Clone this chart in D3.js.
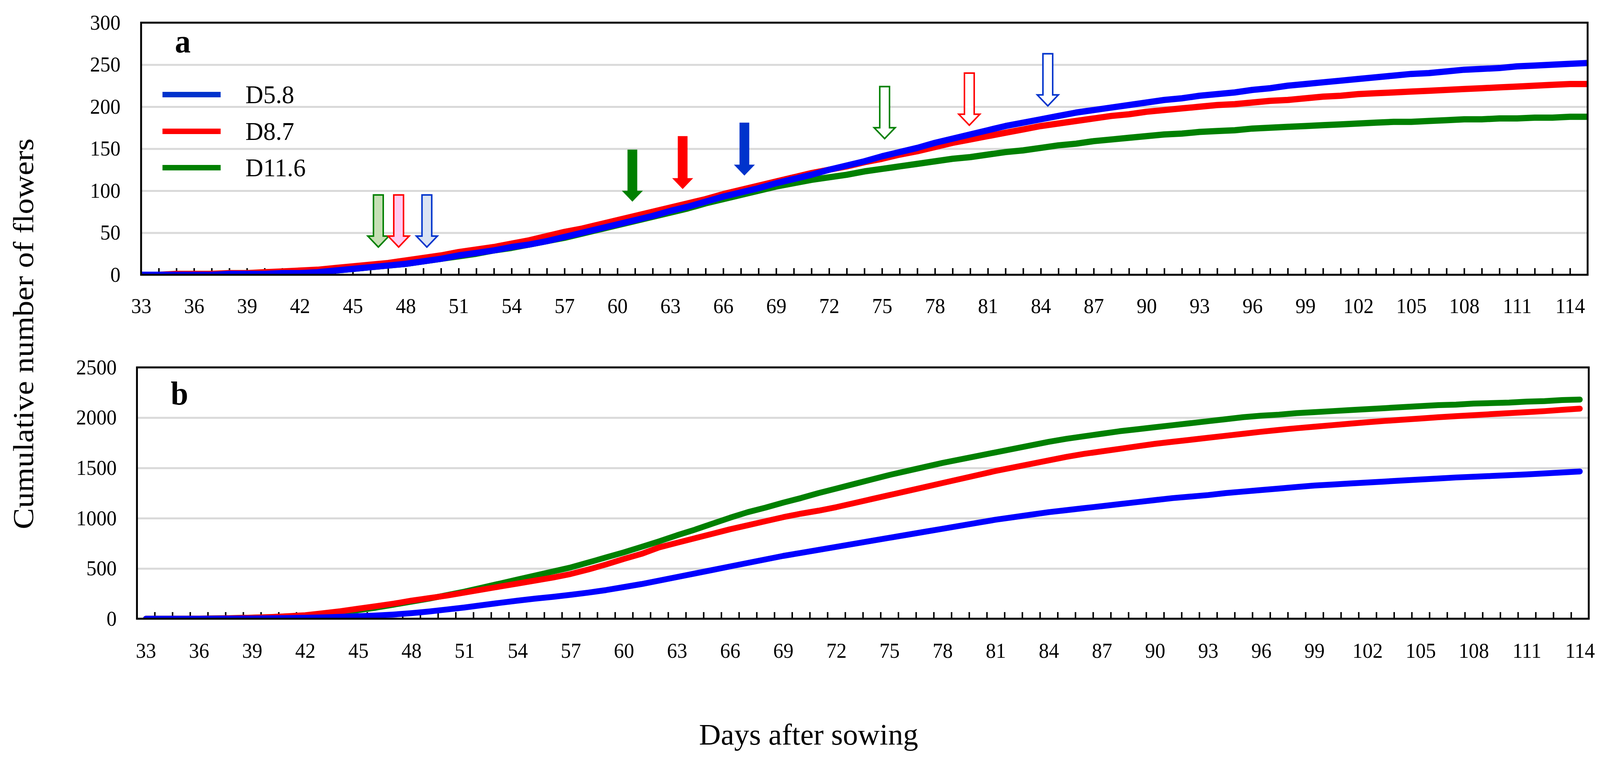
<!DOCTYPE html>
<html>
<head>
<meta charset="utf-8">
<script src="https://cdn.jsdelivr.net/npm/d3@7"></script>
<style>
  html, body { margin: 0; padding: 0; background: #fff; overflow: hidden; }
  #chart svg { display: block; width: 100vw; height: 100vh; }
  text { font-family: "Palatino Linotype", "Book Antiqua", Palatino, "Liberation Serif", serif; fill: #000; }
</style>
</head>
<body>
<div id="chart"></div>
<script>
// days after sowing
const daysA = d3.range(33, 116);
const daysB = d3.range(33, 115);
const dayLabels = d3.range(33, 115, 3);

const seriesNames = ["D5.8", "D8.7", "D11.6"];
const seriesColors = ["#0000ff", "#ff0000", "#008000"];

// panel a
const aD58 = [0,0,0,0,0,1,1,1,2,2, 3,5,7,9,11,13,16,19,23,26, 29,33,36,40,45,50,55,60,65,70,
  76,81,87,93,98,103,109,114,119,125, 130,135,141,146,151,157,162,167,172,177,
  181,185,189,193,196,199,202,205,208,210, 213,215,217,220,222,225,227,229,231,233,
  235,237,239,240,242,244,245,246,248,249, 250,251,252];
const aD87 = [0,0,1,1,1,2,2,3,4,5, 6,8,10,12,14,17,20,23,27,30, 33,37,41,46,51,55,60,65,70,75,
  80,85,90,96,101,106,111,116,121,125, 129,134,138,143,147,152,157,161,165,169,
  173,177,180,183,186,189,191,194,196,198, 200,202,203,205,207,208,210,212,213,215,
  216,217,218,219,220,221,222,223,224,225, 226,227,227];
const aD116 = [0,0,0,0,0,1,1,1,2,2, 3,5,7,9,11,13,16,19,22,25, 29,32,36,40,44,49,54,59,64,69,
  74,79,85,90,95,100,105,109,113,116, 119,123,126,129,132,135,138,140,143,146,
  148,151,154,156,159,161,163,165,167,168, 170,171,172,174,175,176,177,178,179,180,
  181,182,182,183,184,185,185,186,186,187, 187,188,188];

// panel b
const bD58 = [0,0,0,0,1,2,3,5,7,10, 14,19,25,32,42,55,72,92,112,135, 158,180,200,218,238,260,285,315,345,380,
  415,450,485,520,555,590,625,655,685,715, 745,775,805,835,865,895,925,955,985,1010,
  1035,1060,1080,1100,1120,1140,1160,1180,1200,1215, 1230,1250,1265,1280,1295,1310,1325,1335,1345,1355,
  1365,1375,1385,1395,1405,1412,1420,1428,1436,1445, 1455,1465];
const bD87 = [0,0,1,2,4,7,11,17,25,35, 55,75,100,125,150,180,205,230,260,290, 320,350,380,410,445,490,540,595,645,710,
  755,800,845,890,930,970,1010,1045,1075,1110, 1150,1190,1230,1270,1310,1350,1390,1430,1470,1505,
  1540,1575,1610,1640,1665,1690,1715,1740,1760,1780, 1800,1820,1840,1860,1878,1895,1910,1925,1940,1955,
  1968,1980,1992,2004,2015,2025,2035,2045,2055,2065, 2078,2090];
const bD116 = [0,0,1,2,4,7,11,16,23,32, 45,62,85,110,140,170,200,235,270,310, 350,390,430,470,510,560,610,660,715,770,
  830,885,945,1005,1060,1105,1155,1200,1250,1295, 1340,1385,1430,1470,1510,1550,1585,1620,1655,1690,
  1725,1760,1790,1815,1840,1865,1885,1905,1925,1945, 1965,1985,2005,2020,2030,2045,2055,2065,2075,2085,
  2095,2105,2115,2125,2130,2140,2145,2150,2160,2165, 2175,2180];

// arrows in panel a: day, top value, tip value
const arrowDay  = [46.45, 47.6, 49.2, 60.85, 63.7, 67.2, 75.15, 79.95, 84.4];
const arrowTop  = [95, 95, 95, 149, 165, 181, 224, 240, 263];
const arrowTip  = [33, 33, 33, 87, 102, 118, 162, 178, 201];
const arrowKind = ["hollow", "hollow", "hollow", "solid", "solid", "solid", "hollow", "hollow", "hollow"];
const arrowStroke = ["#008000", "#ff0000", "#0033cc", "#008000", "#ff0000", "#0033cc", "#008000", "#ff0000", "#0033cc"];
const arrowFill = ["#c5e0b4", "#ffccf2", "#dae3f3", "#008000", "#ff0000", "#0033cc", "#ffffff", "#ffffff", "#ffffff"];

const W = 4264, H = 1947;
const svg = d3.select("#chart").append("svg")
  .attr("viewBox", "0 0 " + W + " " + H)
  .attr("preserveAspectRatio", "none")
  .style("background", "#fff");

function drawPanel(p) {
  const x = d3.scaleLinear().domain(p.xDomain).range([p.left, p.right]);
  const y = d3.scaleLinear().domain([0, p.yMax]).range([p.bottom, p.top]);
  const g = svg.append("g");

  // gridlines
  g.append("g")
    .attr("transform", "translate(" + p.left + ",0)")
    .call(d3.axisLeft(y).tickValues(p.grid).tickSize(-(p.right - p.left)).tickFormat(""))
    .call(s => s.select(".domain").remove())
    .call(s => s.selectAll("line").attr("stroke", "#d9d9d9").attr("stroke-width", 5));

  // y labels
  g.append("g")
    .attr("transform", "translate(" + p.left + ",0)")
    .call(d3.axisLeft(y).tickValues(p.yTicks).tickSize(0).tickPadding(p.yPad).tickFormat(d3.format("d")))
    .call(s => s.select(".domain").remove())
    .call(s => s.selectAll("text").attr("font-size", 54));

  // inner ticks on bottom axis
  g.append("g")
    .attr("transform", "translate(0," + p.bottom + ")")
    .call(d3.axisBottom(x).tickValues(p.minorTicks).tickSize(-17).tickFormat(""))
    .call(s => s.select(".domain").remove())
    .call(s => s.selectAll("line").attr("stroke", "#000").attr("stroke-width", 4));

  // x labels
  g.append("g")
    .attr("transform", "translate(0," + p.bottom + ")")
    .call(d3.axisBottom(x).tickValues(dayLabels).tickSize(0).tickPadding(p.xPad).tickFormat(d3.format("d")))
    .call(s => s.select(".domain").remove())
    .call(s => s.selectAll("text").attr("font-size", 54));

  // lines
  const clipId = "clip-" + p.name;
  svg.append("clipPath").attr("id", clipId)
    .append("rect")
    .attr("x", p.left).attr("y", p.top)
    .attr("width", p.right - p.left).attr("height", p.bottom - p.top + 2);

  const line = d3.line()
    .x((d, i) => x(p.days[i]))
    .y(d => y(d));

  const lg = g.append("g").attr("clip-path", "url(#" + clipId + ")");
  [2, 1, 0].forEach(k => {
    lg.append("path")
      .datum(p.series[k])
      .attr("d", line)
      .attr("fill", "none")
      .attr("stroke", seriesColors[k])
      .attr("stroke-width", p.lineWidth)
      .attr("stroke-linecap", p.cap)
      .attr("stroke-linejoin", "round");
  });

  // frame
  g.append("rect")
    .attr("x", p.left).attr("y", p.top)
    .attr("width", p.right - p.left).attr("height", p.bottom - p.top)
    .attr("fill", "none").attr("stroke", "#000").attr("stroke-width", 5);

  g.append("text")
    .attr("x", p.left + 90).attr("y", p.labelY)
    .attr("font-size", 84).attr("font-weight", "bold")
    .text(p.name);

  return {x, y, g};
}

const pa = drawPanel({
  name: "a", left: 376, right: 4231, top: 58, bottom: 703,
  xDomain: [33, 115], yMax: 300, grid: [50, 100, 150, 200, 250],
  yTicks: [0, 50, 100, 150, 200, 250, 300], yPad: 55, xPad: 60,
  minorTicks: d3.range(34, 115), days: daysA,
  series: [aD58, aD87, aD116], lineWidth: 16, cap: "butt", labelY: 134
});

const pb = drawPanel({
  name: "b", left: 365, right: 4234, top: 940, bottom: 1583,
  xDomain: [32.5, 114.5], yMax: 2500, grid: [500, 1000, 1500, 2000],
  yTicks: [0, 500, 1000, 1500, 2000, 2500], yPad: 54, xPad: 62,
  minorTicks: d3.range(33.5, 114, 1), days: daysB,
  series: [bD58, bD87, bD116], lineWidth: 15, cap: "round", labelY: 1035
});

// legend in panel a
const legY = [242, 336, 429];
const legColors = ["#0033cc", "#ff0000", "#008000"];
const leg = pa.g.append("g");
seriesNames.forEach((n, i) => {
  leg.append("line")
    .attr("x1", 433).attr("x2", 588)
    .attr("y1", legY[i]).attr("y2", legY[i])
    .attr("stroke", legColors[i]).attr("stroke-width", 14);
  leg.append("text")
    .attr("x", 654).attr("y", legY[i] + 22)
    .attr("font-size", 66)
    .text(n);
});

// arrows
const sw = 13, hw = 28, hl = 28;
arrowDay.forEach((d, i) => {
  const cx = pa.x(d), y0 = pa.y(arrowTop[i]), y1 = pa.y(arrowTip[i]);
  const path = d3.path();
  path.moveTo(cx - sw, y0);
  path.lineTo(cx + sw, y0);
  path.lineTo(cx + sw, y1 - hl);
  path.lineTo(cx + hw, y1 - hl);
  path.lineTo(cx, y1);
  path.lineTo(cx - hw, y1 - hl);
  path.lineTo(cx - sw, y1 - hl);
  path.closePath();
  const a = pa.g.append("path")
    .attr("d", path.toString())
    .attr("fill", arrowFill[i]);
  if (arrowKind[i] === "hollow") {
    a.attr("stroke", arrowStroke[i]).attr("stroke-width", 4);
  }
});

// axis titles
svg.append("text")
  .attr("transform", "translate(89,854) rotate(-90)")
  .attr("text-anchor", "middle")
  .attr("font-size", 76)
  .attr("textLength", 1000).attr("lengthAdjust", "spacingAndGlyphs")
  .text("Cumulative number of flowers");

svg.append("text")
  .attr("x", 2155).attr("y", 1905)
  .attr("text-anchor", "middle")
  .attr("font-size", 76)
  .attr("textLength", 584).attr("lengthAdjust", "spacingAndGlyphs")
  .text("Days after sowing");
</script>
</body>
</html>
